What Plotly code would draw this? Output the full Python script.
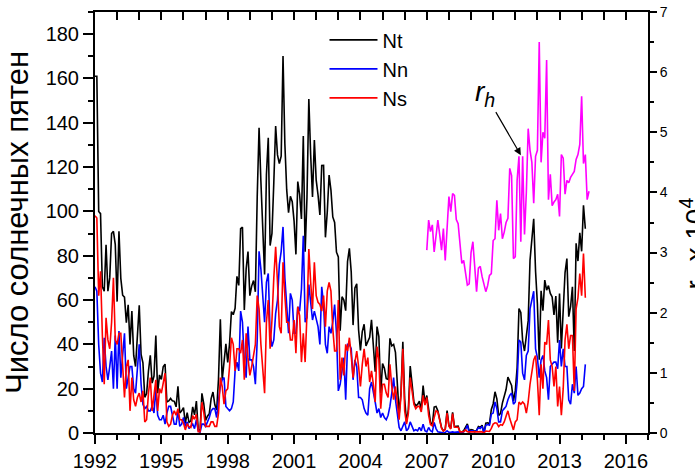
import plotly.graph_objects as go

# Monthly sunspot numbers, Jan 1992 .. Mar 2014
nt = [
    161, 161, 100, 99, 66, 64, 85, 64, 70, 90, 91, 85,
    59.3, 91.0, 69.8, 62.2, 61.3, 49.8, 57.9, 40, 55, 35, 30, 44,
    57.6, 35.5, 31.7, 16.1, 17.8, 28.0, 35.1, 22.5, 25.7, 44.0, 18.0, 26.2,
    24.2, 29.9, 31.1, 14.0, 14.5, 15.6, 14.5, 14.3, 11.8, 21.1, 9.0, 10.0,
    11.5, 4.4, 9.2, 4.8, 5.5, 11.8, 8.2, 14.4, 1.6, 0.9, 17.9, 13.3,
    5.7, 7.6, 8.7, 15.5, 18.5, 12.7, 10.4, 24.4, 51.3, 23.9, 30.9, 40.2,
    31.9, 40.3, 54.8, 53.4, 56.3, 70.7, 66.6, 92.2, 92.9, 55.5, 74.0, 81.9,
    62.0, 66.3, 68.8, 63.7, 106.4, 137.7, 113.5, 93.7, 71.5, 116.7, 133.2, 84.6,
    90.1, 112.9, 138.5, 125.5, 121.6, 124.9, 170.1, 130.5, 109.7, 99.4, 106.8, 104.4,
    95.6, 80.6, 113.5, 107.7, 96.6, 134.0, 81.8, 106.4, 150.7, 125.5, 106.5, 132.2,
    114.1, 107.4, 98.4, 120.7, 120.8, 88.3, 99.6, 116.4, 109.6, 97.5, 95.0, 81.6,
    79.5, 46.2, 61.5, 60.0, 55.2, 77.4, 83.3, 72.7, 48.7, 65.5, 67.3, 46.5,
    37.3, 45.8, 49.1, 39.3, 41.5, 43.2, 51.1, 40.9, 27.7, 48.0, 43.5, 17.9,
    31.3, 29.2, 24.5, 24.2, 42.7, 39.3, 40.0, 36.4, 22.1, 8.5, 18.0, 41.2,
    15.3, 4.9, 10.6, 30.2, 22.3, 13.9, 12.2, 12.9, 14.4, 10.5, 21.4, 13.6,
    16.9, 10.6, 4.8, 3.7, 11.7, 12.0, 10.0, 6.2, 2.4, 0.9, 1.7, 10.1,
    3.4, 2.1, 9.3, 2.9, 2.9, 3.1, 0.5, 0.5, 1.1, 2.9, 4.1, 0.8,
    1.5, 1.4, 0.7, 1.2, 2.9, 2.6, 3.5, 0.0, 4.4, 4.6, 4.2, 10.6,
    13.1, 18.6, 15.4, 7.9, 8.8, 13.5, 16.1, 19.6, 25.2, 23.5, 21.5, 14.4,
    19.0, 29.4, 56.2, 54.4, 41.6, 37.0, 43.9, 50.6, 78.0, 88.0, 96.7, 73.0,
    58.3, 33.1, 64.2, 55.2, 69.0, 64.5, 66.5, 63.0, 61.4, 53.3, 61.8, 40.8,
    62.9, 38.1, 57.9, 72.4, 78.7, 52.5, 57.0, 66.0, 37.0, 85.6, 77.6, 90.3,
    82.0, 102.8, 92.2,
]

nn = [
    66, 64, 40, 27, 23, 43, 30, 24, 30, 37, 20, 44,
    20, 46, 25, 35, 45, 20, 25, 30, 30, 20, 18, 28,
    40, 22, 13, 11, 12, 10, 10, 12, 9, 20, 8, 6,
    6, 8, 4, 9, 12, 12, 7, 4, 4, 10, 3, 4,
    7, 3, 5, 2, 3, 4, 2, 6, 1, 0.3, 4, 4,
    3, 5, 7, 10, 11, 11, 7, 15, 21, 24, 25, 12,
    11, 10, 11, 14, 28, 32, 28, 55, 50, 32, 25, 48,
    33, 33, 30, 22, 42, 82, 74, 62, 50, 68, 72, 45,
    39, 42, 54, 60, 76, 82, 93, 70, 58, 45, 63, 60,
    45, 45, 57, 55, 65, 89, 50, 52, 67, 58, 51, 55,
    52, 48, 40, 66, 58, 40, 36, 48, 45, 50, 58, 45,
    19, 22, 28, 34, 15, 40, 40, 38, 24, 33, 30, 16,
    16, 15, 11, 9, 8, 20, 23, 19, 14, 9, 11, 7,
    9, 7, 6, 8, 12, 18, 25, 15, 9, 2.5, 1, 3,
    5, 1, 2, 5, 3, 1, 1.5, 1, 2.5, 1, 4, 1,
    0.5, 2.5, 1, 0.5, 4.8, 2, 0.5, 0.5, 0.2, 0, 0.2, 1,
    0.3, 0.3, 0.5, 0.3, 0.3, 0.5, 0, 0, 0.5, 1.5, 3.5, 0.3,
    1, 1, 0.5, 1, 2.4, 2, 3, 0, 3.5, 3.8, 3.5, 8.5,
    9, 14, 11, 5, 5, 10, 11, 12, 15, 17, 18, 13,
    14, 23, 42, 41, 27, 24, 35, 37, 56, 60, 64, 38,
    34, 25, 33, 35, 28, 25, 15, 30, 31, 32, 32, 29,
    42, 30, 38, 30, 30, 15, 13, 22, 18, 30, 17, 18,
    20, 21, 31,
]

ns = [
    98, 97, 62, 73, 44, 22, 52, 42, 38, 50, 70, 42,
    40, 45, 45, 27, 16, 30, 33, 10, 25, 15, 12, 16,
    18, 14, 19, 5, 6, 18, 25, 10, 17, 24, 10, 20,
    18, 22, 27, 5, 3, 4, 8, 10, 8, 11, 6, 6,
    4.5, 1.4, 4.2, 2.8, 2.5, 7.8, 6.2, 8.4, 0.6, 0.6, 13.9, 9.3,
    3, 3, 3, 5, 5, 3, 3, 9, 25, 21, 13, 19,
    20, 30, 43, 40, 28, 38, 38, 36, 42, 24, 45, 34,
    26, 30, 36, 40, 62, 56, 40, 28, 18, 50, 60, 38,
    51, 70, 84, 68, 48, 45, 77, 62, 50, 50, 42, 42,
    51, 36, 57, 53, 32, 45, 32, 54, 83, 68, 56, 77,
    62, 59, 58, 55, 62, 48, 64, 68, 64, 47, 37, 37,
    60, 24, 34, 26, 40, 37, 43, 35, 25, 32, 37, 30,
    21, 31, 38, 30, 34, 23, 28, 22, 14, 39, 33, 11,
    22, 22, 18, 16, 31, 21, 15, 21, 13, 6, 17, 38,
    10, 4, 9, 25, 19, 13, 11, 12, 12, 9.5, 17, 12.6,
    16, 8, 3.8, 3.2, 7, 10, 9.5, 5.7, 2.2, 0.9, 1.5, 9,
    3.1, 1.8, 8.8, 2.6, 2.6, 2.6, 0.5, 0.5, 0.6, 1.4, 0.6, 0.5,
    0.5, 0.4, 0.2, 0.2, 0.5, 0.6, 0.5, 0, 0.9, 0.8, 0.7, 2.1,
    4, 4.6, 4.4, 2.9, 3.8, 3.5, 5, 7.6, 10, 6.5, 3.5, 1.4,
    5, 6, 14, 13, 14, 13, 9, 14, 22, 28, 33, 35,
    24, 8, 31, 20, 41, 40, 51, 33, 30, 21, 30, 12,
    21, 8, 20, 42, 49, 38, 44, 44, 19, 56, 61, 72,
    62, 81, 61,
]

# r_h (x 10^4), monthly from Jan 2007
rh = [
    3.04, 3.54, 3.35, 3.46, 3.01, 3.30, 3.54, 3.30, 3.04, 3.40, 2.87, 3.40,
    3.93, 3.68, 3.98, 3.95, 3.55, 3.48, 3.10, 2.82, 2.87, 2.70, 2.46, 2.48,
    3.00, 3.18, 2.79, 2.35, 2.74, 2.77, 2.60, 2.45, 2.35, 2.45, 2.62, 2.65,
    3.20, 3.23, 3.87, 3.37, 3.65, 3.23, 3.34, 3.50, 3.57, 4.40, 4.28, 2.90,
    2.93, 4.20, 4.60, 3.18, 4.60, 3.30, 4.00, 5.06, 4.70, 4.50, 3.82, 4.60,
    4.70, 6.50, 4.50, 5.00, 4.90, 6.20, 3.88, 4.30, 3.78, 3.84, 3.88, 3.97,
    3.60, 4.63, 4.57, 3.97, 4.20, 4.16, 4.25, 4.30, 4.35, 4.55, 4.63, 4.80,
    5.60, 4.48, 4.63, 3.88, 4.02,
]

start_n = 1992.0
start_r = 2007.0
t_nt = [start_n + i / 12 for i in range(len(nt))]
t_nn = [start_n + i / 12 for i in range(len(nn))]
t_ns = [start_n + i / 12 for i in range(len(ns))]
t_rh = [start_r + i / 12 for i in range(len(rh))]

FONT = "Liberation Sans, Arial, sans-serif"

fig = go.Figure()
fig.add_trace(go.Scatter(x=t_nt, y=nt, mode="lines", name="Nt",
                         line=dict(color="black", width=1.6)))
fig.add_trace(go.Scatter(x=t_nn, y=nn, mode="lines", name="Nn",
                         line=dict(color="#0000FF", width=1.6)))
fig.add_trace(go.Scatter(x=t_ns, y=ns, mode="lines", name="Ns",
                         line=dict(color="#FF0000", width=1.6)))
fig.add_trace(go.Scatter(x=t_rh, y=rh, mode="lines", name="r_h",
                         line=dict(color="#FF00FF", width=1.6),
                         yaxis="y2", showlegend=False))
# dummy trace for the top axis (inward ticks)
fig.add_trace(go.Scatter(x=[1992], y=[None], xaxis="x2", yaxis="y",
                         showlegend=False, hoverinfo="skip"))

fig.update_layout(
    width=695, height=471,
    margin=dict(l=95, r=47, t=12, b=38),
    paper_bgcolor="white", plot_bgcolor="white",
    font=dict(family=FONT, color="black", size=20),
    showlegend=True,
    legend=dict(x=0.415, y=0.98, xanchor="left", yanchor="top",
                bgcolor="rgba(0,0,0,0)", font=dict(size=20),
                tracegroupgap=0, itemwidth=48),
    xaxis=dict(range=[1992, 2017], tickmode="array",
               tickvals=[1992, 1995, 1998, 2001, 2004, 2007, 2010, 2013, 2016],
               ticks="outside", ticklen=9, tickwidth=1.5, tickcolor="black",
               showline=True, linecolor="black", linewidth=2,
               showgrid=False, zeroline=False, automargin=False,
               tickfont=dict(size=20),
               minor=dict(dtick=1, tick0=1992, ticks="outside", ticklen=5,
                          tickwidth=1.5, tickcolor="black", showgrid=False)),
    xaxis2=dict(range=[1992, 2017], overlaying="x", side="top", anchor="y",
                tick0=1992, dtick=1, ticks="inside", ticklen=8, tickwidth=1.5,
                tickcolor="black", showticklabels=False, automargin=False,
                showline=True, linecolor="black", linewidth=2,
                showgrid=False, zeroline=False),
    yaxis=dict(range=[0, 190], tick0=0, dtick=20,
               ticks="outside", ticklen=10, tickwidth=1.5, tickcolor="black",
               showline=True, linecolor="black", linewidth=2,
               showgrid=False, zeroline=False, automargin=False,
               tickfont=dict(size=20),
               minor=dict(dtick=10, ticks="outside", ticklen=5, tickwidth=1.5,
                          tickcolor="black", showgrid=False),
               title=dict(text="Число солнечных пятен", font=dict(size=31),
                          standoff=8)),
    yaxis2=dict(range=[0, 7], overlaying="y", side="right", anchor="x",
                tick0=0, dtick=1, ticks="outside", ticklen=7, tickwidth=1.5,
                tickcolor="black", automargin=False,
                showline=True, linecolor="black", linewidth=2,
                showgrid=False, zeroline=False,
                tickfont=dict(size=14),
                minor=dict(dtick=0.5, ticks="outside", ticklen=4, tickwidth=1.5,
                           tickcolor="black", showgrid=False)),
)

# r_h label with arrow
fig.add_annotation(x=2011.25, y=4.62, xref="x", yref="y2",
                   text="<i>r<sub>h</sub></i>", font=dict(size=28),
                   showarrow=True, arrowhead=2, arrowsize=1.2, arrowwidth=1.2,
                   arrowcolor="black", ax=-36, ay=-62, standoff=0)
# right axis title, partially outside the page like the original
fig.add_annotation(x=1.085, y=0.45, xref="paper", yref="paper",
                   text="r<sub>h</sub> x 10<sup>4</sup>", textangle=-90,
                   font=dict(size=28), showarrow=False,
                   xanchor="center", yanchor="middle")

fig.write_html("out.html")
